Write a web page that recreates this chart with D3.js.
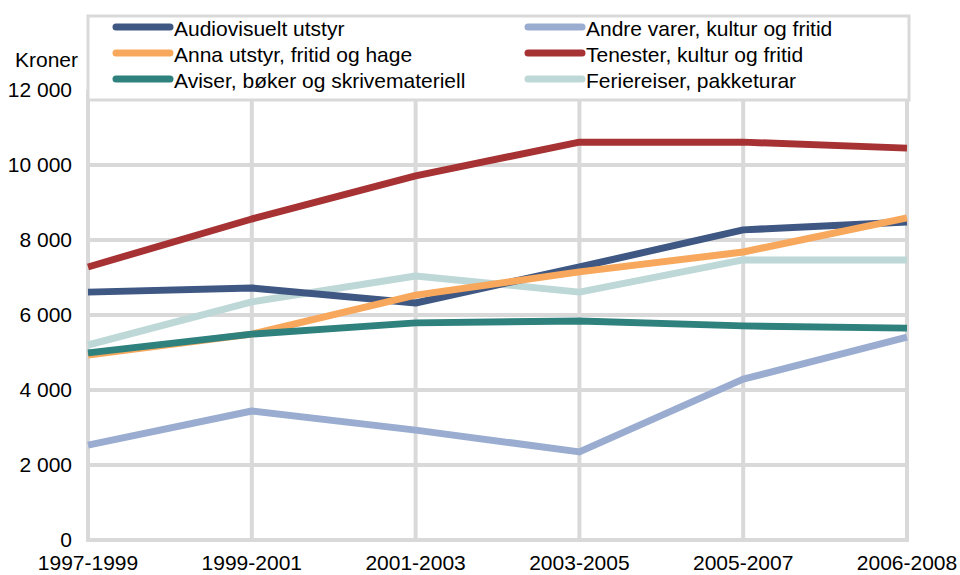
<!DOCTYPE html>
<html><head><meta charset="utf-8">
<script src="https://cdn.jsdelivr.net/npm/d3@7/dist/d3.min.js"></script>
<style>body{margin:0;background:#fff}svg{display:block}text{font-family:"Liberation Sans",Arial,sans-serif;fill:#000}</style>
</head><body><svg id="c" width="960" height="575"></svg>
<script>
const categories = ["1997-1999","1999-2001","2001-2003","2003-2005","2005-2007","2006-2008"];
const seriesNames = ["Audiovisuelt utstyr","Andre varer, kultur og fritid","Anna utstyr, fritid og hage","Tenester, kultur og fritid","Aviser, bøker og skrivemateriell","Feriereiser, pakketurar"];
const audiovisuelt = [6610, 6720, 6320, 7280, 8270, 8480];
const andreVarer   = [2530, 3440, 2930, 2350, 4290, 5410];
const annaUtstyr   = [4930, 5490, 6530, 7150, 7680, 8590];
const tenester     = [7280, 8560, 9710, 10610, 10610, 10450];
const aviser       = [4990, 5490, 5790, 5840, 5710, 5650];
const ferie        = [5200, 6350, 7040, 6610, 7470, 7470];
const colors = ["#3F5783","#9AADD0","#F7A85C","#A63234","#2E817D","#BDD8D7"];
const yTicks = [0,2000,4000,6000,8000,10000,12000];

const seriesValues = [audiovisuelt, andreVarer, annaUtstyr, tenester, aviser, ferie];
const drawOrder = [1,5,0,2,4,3];

const svg = d3.select("#c");
const x = d3.scalePoint().domain(categories).range([88, 907]);
const y = d3.scaleLinear().domain([0,12000]).range([540, 90]);
const fmt = v => d3.format(",")(v).replace(/,/g, " ");

// grid
const g = svg.append("g");
g.selectAll("line.h").data(yTicks).join("line")
  .attr("x1", 88).attr("x2", 907).attr("y1", d=>y(d)).attr("y2", d=>y(d))
  .attr("stroke", "#D9D9D9").attr("stroke-width", 4);
g.selectAll("line.v").data(categories).join("line")
  .attr("x1", d=>x(d)).attr("x2", d=>x(d)).attr("y1", y(12000)).attr("y2", y(0)+2)
  .attr("stroke", "#D9D9D9").attr("stroke-width", 4);

// y labels
svg.append("g").selectAll("text").data(yTicks).join("text")
  .attr("x", 72).attr("y", d=>y(d)+7).attr("text-anchor","end")
  .attr("font-size", 21).text(d=>fmt(d));
svg.append("text").attr("x", 15).attr("y", 67).attr("font-size", 21).text("Kroner");

// x labels
svg.append("g").selectAll("text").data(categories).join("text")
  .attr("x", d=>x(d)).attr("y", 570).attr("text-anchor","middle")
  .attr("font-size", 21).text(d=>d);

// lines
const line = d3.line().x((d,i)=>x(categories[i])).y(d=>y(d));
svg.append("g").selectAll("path").data(drawOrder).join("path")
  .attr("d", i=>line(seriesValues[i]))
  .attr("fill","none").attr("stroke", i=>colors[i]).attr("stroke-width", 7)
  .attr("stroke-linejoin","round");

// legend
const lg = svg.append("g");
lg.append("rect").attr("x", 88).attr("y", 16).attr("width", 821).attr("height", 84)
  .attr("fill","#fff").attr("stroke","#D9D9D9").attr("stroke-width",3);
const legendPos = [[113,27],[525,27],[113,53],[525,53],[113,79],[525,79]];
seriesNames.forEach((n,i)=>{
  const [lx,ly] = legendPos[i];
  lg.append("line").attr("x1", lx+3).attr("x2", lx+57).attr("y1", ly).attr("y2", ly)
    .attr("stroke", colors[i]).attr("stroke-width", 7).attr("stroke-linecap","round");
  lg.append("text").attr("x", lx+61).attr("y", ly+9).attr("font-size",21).text(n);
});
</script></body></html>
